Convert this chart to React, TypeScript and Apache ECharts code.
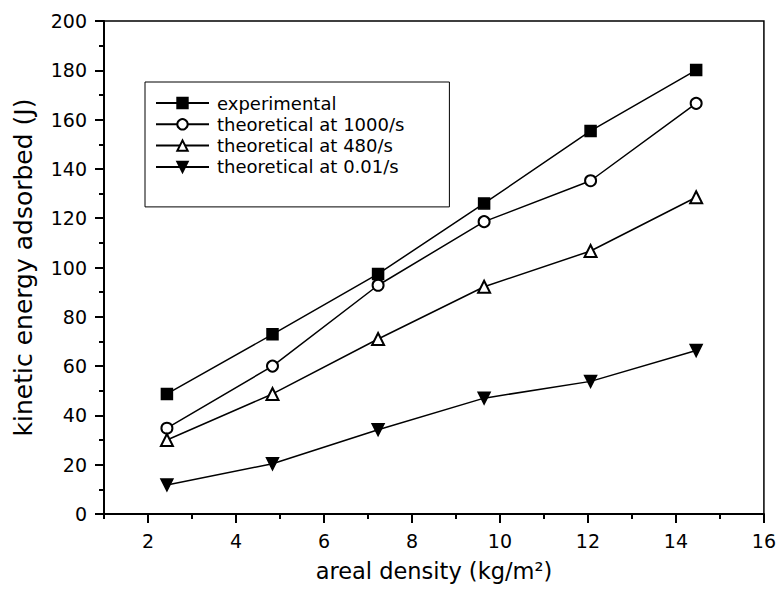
import React, { useEffect, useRef } from "react";
import * as echarts from "echarts";

const arealDensity = [2.43, 4.83, 7.23, 9.64, 12.06, 14.46];
const experimental = [48.7, 72.9, 97.4, 126.0, 155.4, 180.1];
const theo1000 = [34.8, 60.0, 92.8, 118.6, 135.2, 166.6];
const theo480 = [30.0, 48.7, 71.0, 92.2, 106.7, 128.5];
const theo001 = [11.8, 20.4, 34.2, 47.0, 53.8, 66.3];

const seriesNames = [
  "experimental",
  "theoretical at 1000/s",
  "theoretical at 480/s",
  "theoretical at 0.01/s",
];
const xMajorTicks = [2, 4, 6, 8, 10, 12, 14, 16];
const xMinorTicks = [1, 3, 5, 7, 9, 11, 13, 15];

const FONT = "'DejaVu Sans', sans-serif";
const DOWN_TRI = "path://M0,0 L12,0 L6,11 Z";

export default function App() {
  const ref = useRef<HTMLDivElement>(null);
  useEffect(() => {
    if (!ref.current) return;
    const chart = echarts.init(ref.current, null, { renderer: "svg" });
    const pair = (ys: number[]) => ys.map((y, i) => [arealDensity[i], y]);
    const lineStyle = { color: "#000", width: 1.5 };
    const mk = (name: string, ys: number[], symbol: string, size: number) => ({
      name,
      type: "line",
      data: pair(ys),
      symbol,
      symbolSize: size,
      showSymbol: true,
      lineStyle,
      itemStyle: { color: "#000", borderColor: "#000", borderWidth: 1.5 },
      emphasis: { disabled: true },
      z: 3,
    });
    chart.setOption({
      animation: false,
      backgroundColor: "#fff",
      textStyle: { fontFamily: FONT },
      grid: {
        left: 104,
        right: 13,
        top: 21,
        bottom: 77,
        show: true,
        borderColor: "#000",
        borderWidth: 1.5,
        containLabel: false,
      },
      legend: {
        left: 145,
        top: 82,
        orient: "vertical",
        itemWidth: 53,
        itemHeight: 13,
        itemGap: 3.3,
        padding: [12, 45, 31, 10],
        borderColor: "#000",
        borderWidth: 1,
        backgroundColor: "#fff",
        textStyle: { fontFamily: FONT, fontSize: 18, color: "#000", padding: [0, 0, 0, 3] },
        data: seriesNames,
      },
      xAxis: [
        {
          type: "value",
          min: 1,
          max: 16,
          name: "areal density (kg/m²)",
          nameLocation: "middle",
          nameGap: 45,
          nameTextStyle: { fontFamily: FONT, fontSize: 22.5, color: "#000" },
          axisLine: { show: true, onZero: false, lineStyle: { color: "#000", width: 2 } },
          axisTick: { show: true, customValues: xMajorTicks, length: 9, lineStyle: { color: "#000", width: 2 } },
          axisLabel: { customValues: xMajorTicks, margin: 17, fontFamily: FONT, fontSize: 19, color: "#000" },
          splitLine: { show: false },
        },
        {
          type: "value",
          min: 1,
          max: 16,
          position: "bottom",
          axisLine: { show: false },
          axisTick: { show: true, customValues: xMinorTicks, length: 5, lineStyle: { color: "#000", width: 2 } },
          axisLabel: { show: false },
          splitLine: { show: false },
        },
      ],
      yAxis: {
        type: "value",
        min: 0,
        max: 200,
        interval: 20,
        name: "kinetic energy adsorbed (J)",
        nameLocation: "middle",
        nameGap: 68,
        nameTextStyle: { fontFamily: FONT, fontSize: 25, color: "#000" },
        axisLine: { show: true, lineStyle: { color: "#000", width: 2 } },
        axisTick: { show: true, length: 9, lineStyle: { color: "#000", width: 2 } },
        minorTick: { show: true, splitNumber: 2, length: 5, lineStyle: { color: "#000", width: 2 } },
        axisLabel: { margin: 17, fontFamily: FONT, fontSize: 19, color: "#000" },
        splitLine: { show: false },
      },
      series: [
        mk(seriesNames[0], experimental, "rect", 11),
        mk(seriesNames[1], theo1000, "emptyCircle", 11),
        mk(seriesNames[2], theo480, "emptyTriangle", 12),
        mk(seriesNames[3], theo001, DOWN_TRI, 12),
      ],
    });
    return () => chart.dispose();
  }, []);
  return <div ref={ref} style={{ width: 779, height: 591, position: "absolute", left: 0, top: 0 }} />;
}
